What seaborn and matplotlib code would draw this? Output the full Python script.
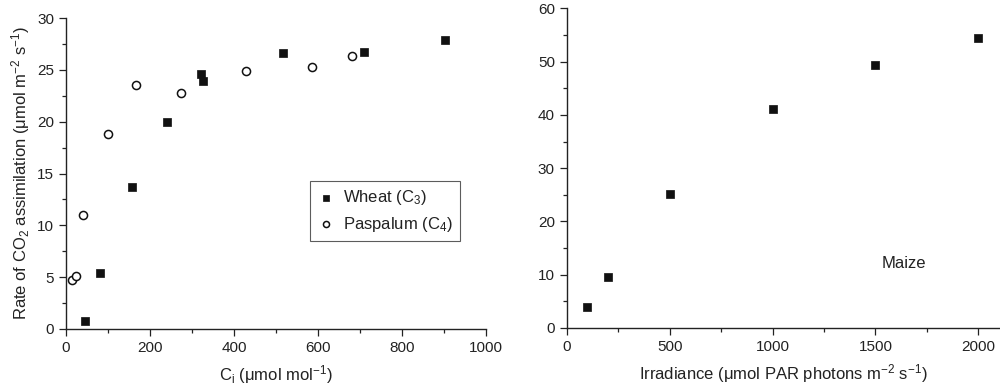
import numpy as np
import pandas as pd
import matplotlib
matplotlib.use("Agg")
import matplotlib.pyplot as plt
from matplotlib.ticker import MultipleLocator
import seaborn as sns

# Left panel: CO2 response (Ci vs assimilation)
wheat_ci = [45, 82, 157, 240, 322, 325, 516, 710, 902]
wheat_a = [0.8, 5.35, 13.7, 20.0, 24.65, 23.9, 26.6, 26.7, 27.9]
paspalum_ci = [15, 23, 41, 101, 166, 274, 429, 586, 681]
paspalum_a = [4.7, 5.15, 11.0, 18.85, 23.5, 22.8, 24.85, 25.3, 26.3]

# Right panel: light response of maize
maize_par = [100, 200, 500, 1000, 1500, 2000]
maize_a = [3.8, 9.6, 25.2, 41.1, 49.3, 54.5]

sns.set_style("ticks")
plt.rcParams["font.family"] = ["Liberation Sans", "DejaVu Sans"]
plt.rcParams["mathtext.fontset"] = "custom"
plt.rcParams["mathtext.rm"] = "Liberation Sans"
plt.rcParams["mathtext.it"] = "Liberation Sans:italic"
plt.rcParams["text.color"] = "#222222"
plt.rcParams["axes.labelcolor"] = "#222222"
plt.rcParams["xtick.color"] = "#222222"
plt.rcParams["ytick.color"] = "#222222"

fig = plt.figure(figsize=(10, 3.86), dpi=100)
ax1 = fig.add_axes([0.066, 0.148, 0.420, 0.805])
ax2 = fig.add_axes([0.5667, 0.151, 0.4333, 0.827])

df_w = pd.DataFrame({"ci": wheat_ci, "a": wheat_a})
df_p = pd.DataFrame({"ci": paspalum_ci, "a": paspalum_a})
df_m = pd.DataFrame({"par": maize_par, "a": maize_a})

sns.scatterplot(data=df_w, x="ci", y="a", ax=ax1, marker="s", s=36,
                color="#111111", edgecolor="#111111", linewidth=0.5,
                label=r"Wheat (C$_3$)")
sns.scatterplot(data=df_p, x="ci", y="a", ax=ax1, marker="o", s=34,
                facecolor="white", edgecolor="#111111", linewidth=1.1,
                label=r"Paspalum (C$_4$)")

ax1.set_xlim(0, 1000)
ax1.set_ylim(0, 30)
ax1.xaxis.set_major_locator(MultipleLocator(200))
ax1.xaxis.set_minor_locator(MultipleLocator(100))
ax1.yaxis.set_major_locator(MultipleLocator(5))
ax1.yaxis.set_minor_locator(MultipleLocator(2.5))
ax1.set_xlabel(r"C$_\mathregular{i}$ (μmol mol$^{-1}$)", fontsize=12, labelpad=6)
ax1.set_ylabel(r"Rate of CO$_2$ assimilation (μmol m$^{-2}$ s$^{-1}$)",
               fontsize=12, labelpad=4)

leg = ax1.legend(loc="upper left", bbox_to_anchor=(0.581, 0.477), frameon=True,
                 fancybox=False, edgecolor="#333333", fontsize=12,
                 handletextpad=0.5, borderpad=0.45, labelspacing=0.45,
                 handlelength=1.0, markerscale=0.75, borderaxespad=0)
leg.get_frame().set_linewidth(0.8)

sns.scatterplot(data=df_m, x="par", y="a", ax=ax2, marker="s", s=36,
                color="#111111", edgecolor="#111111", linewidth=0.5)
ax2.set_xlim(0, 2105)
ax2.set_ylim(0, 60)
ax2.xaxis.set_major_locator(MultipleLocator(500))
ax2.xaxis.set_minor_locator(MultipleLocator(250))
ax2.yaxis.set_major_locator(MultipleLocator(10))
ax2.yaxis.set_minor_locator(MultipleLocator(5))
ax2.set_xlabel(r"Irradiance (μmol PAR photons m$^{-2}$ s$^{-1}$)", fontsize=12, labelpad=6)
ax2.set_ylabel("")
ax2.text(1530, 12, "Maize", fontsize=12, ha="left", va="center")

for ax in (ax1, ax2):
    sns.despine(ax=ax)
    ax.tick_params(which="major", direction="out", length=5, width=0.9, labelsize=11)
    ax.tick_params(which="minor", direction="out", length=3, width=0.9)
    for sp in ("left", "bottom"):
        ax.spines[sp].set_linewidth(1.0)
        ax.spines[sp].set_color("#222222")

fig.savefig("out.png", dpi=100)
